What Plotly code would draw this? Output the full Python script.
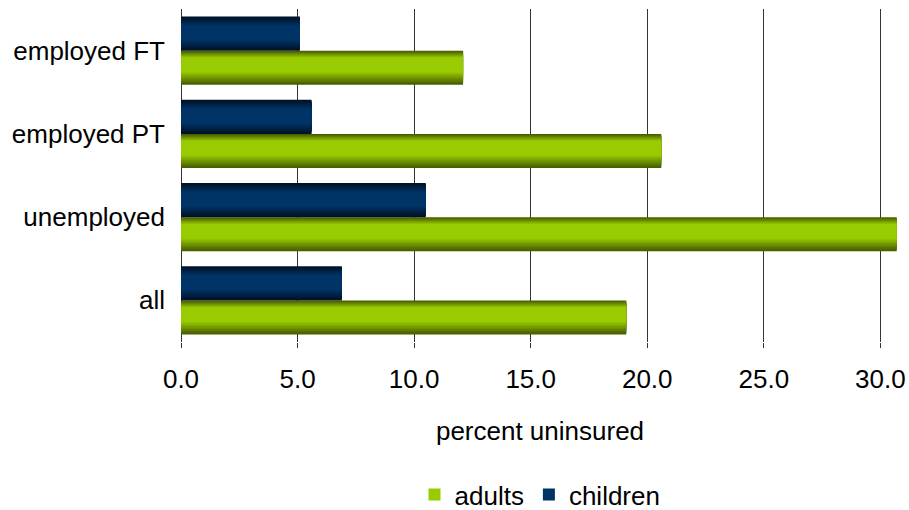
import plotly.graph_objects as go

# Uninsured rates by employment status
categories = ["employed FT", "employed PT", "unemployed", "all"]
adults = [12.1, 20.6, 30.7, 19.1]
children = [5.1, 5.6, 10.5, 6.9]
x_ticks = [0, 5, 10, 15, 20, 25, 30]
x_tick_labels = ["0.0", "5.0", "10.0", "15.0", "20.0", "25.0", "30.0"]

BAR_W = 0.41  # thickness of each bar in category units
FONT = "Liberation Sans, Arial, sans-serif"

def mix(c1, c2, t):
    return "rgb({},{},{})".format(*[round(a + (b - a) * t) for a, b in zip(c1, c2)])

# Shading per series: edge colour, centre colour, and how far the
# gradient reaches in from the top and bottom edge (fraction of bar)
shades = {
    "adults": dict(edge=(72, 92, 0), centre=(153, 204, 0), top=0.2, bottom=0.36),
    "children": dict(edge=(0, 18, 38), centre=(0, 51, 102), top=0.26, bottom=0.3),
}
N_LAYERS = 10

fig = go.Figure()

def add_series(name, values, base_offset):
    sh = shades[name]
    for i in range(N_LAYERS):
        u = i / (N_LAYERS - 1)
        inset_top = sh["top"] * u
        inset_bot = sh["bottom"] * u
        fig.add_trace(go.Bar(
            y=categories,
            x=values,
            orientation="h",
            name=name,
            width=BAR_W * (1 - inset_top - inset_bot),
            offset=base_offset + BAR_W * inset_bot,
            marker=dict(color=mix(sh["edge"], sh["centre"], u), line=dict(width=0)),
            showlegend=(i == N_LAYERS - 1),
            legendgroup=name,
            hoverinfo="x+name",
        ))

add_series("adults", adults, -BAR_W)
add_series("children", children, 0.0)

fig.update_layout(
    width=909,
    height=510,
    margin=dict(l=181, r=10, t=9, b=168, autoexpand=False),
    paper_bgcolor="white",
    plot_bgcolor="white",
    barmode="overlay",
    font=dict(family=FONT, size=26, color="black"),
    showlegend=True,
    legend=dict(
        orientation="h",
        x=0.5, xanchor="center",
        yref="container",
        y=0.03, yanchor="middle",
        font=dict(size=26),
        traceorder="normal",
        itemwidth=30,
        bgcolor="rgba(0,0,0,0)",
    ),
    xaxis=dict(
        range=[0, 30.8],
        tickvals=x_ticks,
        ticktext=x_tick_labels,
        showgrid=True,
        gridcolor="#333333",
        gridwidth=1,
        ticks="outside",
        ticklen=5,
        tickcolor="#333333",
        ticklabelstandoff=9,
        showline=False,
        zeroline=True,
        zerolinecolor="#333333",
        zerolinewidth=1,
        automargin=False,
        title=dict(text="percent uninsured", standoff=28, font=dict(size=26)),
        tickfont=dict(size=26),
    ),
    yaxis=dict(
        categoryorder="array",
        categoryarray=categories[::-1],
        showgrid=False,
        showline=False,
        zeroline=False,
        ticks="",
        ticklabelstandoff=15,
        automargin=False,
        tickfont=dict(size=26),
    ),
)

fig.write_html("out.html")
